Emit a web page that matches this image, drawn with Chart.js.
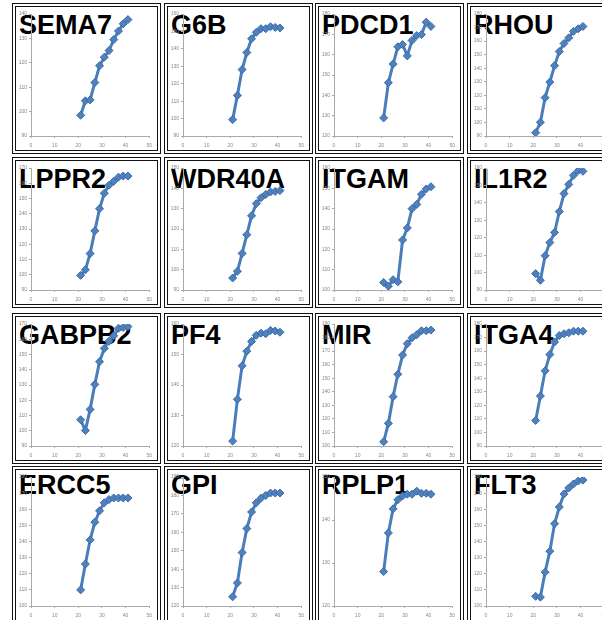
<!DOCTYPE html>
<html>
<head>
<meta charset="utf-8">
<script src="https://cdn.jsdelivr.net/npm/chart.js@4.4.0/dist/chart.umd.min.js"></script>
<style>
  body { margin: 0; background: #fff; width: 602px; height: 620px; overflow: hidden; position: relative; font-family: "Liberation Sans", Arial, sans-serif; }
  .panel { position: absolute; box-sizing: border-box; border: 4px double #111; background: #fff; overflow: hidden; }
  .panel canvas { position: absolute; left: 0; top: 0; z-index: 2; }
  .title { position: absolute; left: 3px; top: 5px; font-weight: bold; font-size: 27px; line-height: 1; color: #000; z-index: 1; white-space: nowrap; }
</style>
</head>
<body>
<script>
// x positions are the same for every gene
const xs = [21, 23, 25, 27, 29, 31, 33, 35, 37, 39, 41];

// one small array per gene
const sema7 = [98.5, 104.4, 104.8, 111.9, 118.8, 122.3, 125, 129.5, 133, 136, 137.7];
const g6b = [99.4, 113.3, 128.1, 137.9, 145.8, 149.5, 151.6, 151.6, 152.7, 152.3, 152];
const pdcd1 = [128.9, 146.2, 155.4, 163.9, 165, 159.4, 167, 169.4, 169.9, 176, 173.9];
const rhou = [92.4, 100.1, 118.3, 129.8, 141.9, 152.3, 158.3, 162.4, 167.2, 169.1, 170.8];
const lppr2 = [99.6, 103.2, 113.9, 128.8, 143.3, 153.4, 158.7, 161.3, 164, 164.7, 164.7];
const wdr40a = [95.9, 99.2, 108, 117.2, 126.5, 132.5, 135.4, 137, 138.2, 138.5, 138.9];
const itgam = [103.7, 101.9, 105.1, 104, 124.6, 130.5, 140, 142.1, 147.1, 149.7, 150.8];
const il1r2 = [99.4, 95.6, 109.7, 117.2, 123, 135, 145.3, 150.6, 155.8, 158.5, 158.1];
const gabpb2 = [107.2, 100.2, 114, 130.4, 145.3, 154, 158.7, 162.3, 167.2, 167.7, 168.3];
const pf4 = [121.6, 135.3, 146.3, 151.1, 154.3, 156.3, 157, 156.8, 157.9, 157.7, 157.3];
const mir = [103.1, 116.7, 136.4, 152.9, 167.1, 175.5, 179.8, 182.1, 185, 185, 185.5];
const itga4 = [108.8, 126.9, 145.5, 157.5, 166.7, 171.5, 172.8, 173.5, 174.7, 174.7, 174.7];
const ercc5 = [110, 126, 141, 152, 159, 164, 166, 167, 167, 167, 167];
const gpi = [125, 132.5, 149, 162, 171, 176, 178.5, 180, 181.3, 181.3, 181.3];
const rplp1 = [128, 137, 142.6, 144.7, 145.6, 146, 146, 146.7, 146.2, 146.2, 146];
const flt3 = [106, 105.5, 121, 134, 151, 161.4, 169.5, 173.2, 175.7, 177.5, 178.1];

const geneNames = ["SEMA7", "G6B", "PDCD1", "RHOU", "LPPR2", "WDR40A", "ITGAM", "IL1R2",
  "GABPB2", "PF4", "MIR", "ITGA4", "ERCC5", "GPI", "RPLP1", "FLT3"];
const geneValues = [sema7, g6b, pdcd1, rhou, lppr2, wdr40a, itgam, il1r2,
  gabpb2, pf4, mir, itga4, ercc5, gpi, rplp1, flt3];
// y axis range for each panel
const yMins = [90, 90, 120, 90, 90, 90, 100, 90, 90, 120, 100, 90, 100, 120, 120, 100];
const yMaxs = [140, 160, 180, 180, 170, 150, 160, 160, 170, 160, 190, 180, 180, 190, 150, 180];

// panel grid placement (bottom row runs off the page)
const colX = [12, 164, 315, 467];
const rowY = [3, 157, 313, 466];
const rowH = [151, 151, 151, 158];
const titleTop = [5, 5, 5, 2];
const panelW = 149;

const tickFont = { family: "Liberation Sans", size: 5 };

geneNames.forEach((name, i) => {
  const row = Math.floor(i / 4);
  const panel = document.createElement("div");
  panel.className = "panel";
  panel.style.left = colX[i % 4] + "px";
  panel.style.top = rowY[row] + "px";
  panel.style.width = panelW + "px";
  panel.style.height = rowH[row] + "px";

  // title sits under the plot, the line is drawn over it
  const title = document.createElement("div");
  title.className = "title";
  title.style.top = titleTop[row] + "px";
  title.textContent = name;
  panel.append(title);

  const canvas = document.createElement("canvas");
  canvas.width = panelW - 8;
  canvas.height = rowH[row] - 8;
  panel.append(canvas);
  document.body.append(panel);

  new Chart(canvas.getContext("2d"), {
    type: "line",
    data: {
      datasets: [{
        data: xs.map((x, k) => ({ x: x, y: geneValues[i][k] })),
        borderColor: "#4a7ebb",
        borderWidth: 3,
        pointStyle: "rectRot",
        pointRadius: 4,
        pointBackgroundColor: "#4f81bd",
        pointBorderColor: "#3d6ba8",
        pointBorderWidth: 1,
        tension: 0,
      }],
    },
    options: {
      responsive: false,
      animation: false,
      layout: { padding: { top: 7, right: 4 } },
      plugins: { legend: { display: false }, tooltip: { enabled: false } },
      scales: {
        x: {
          type: "linear",
          min: 0,
          max: 50,
          ticks: { stepSize: 10, font: tickFont, color: "#888", padding: 5, maxRotation: 0 },
          grid: { drawOnChartArea: false, tickLength: 2, color: "#aaa" },
          border: { color: "#aaa" },
          afterFit: (s) => { s.height = 14; },
        },
        y: {
          min: yMins[i],
          max: yMaxs[i],
          ticks: { stepSize: 10, font: tickFont, color: "#888", padding: 2 },
          grid: { drawOnChartArea: false, tickLength: 2, color: "#aaa" },
          border: { color: "#aaa" },
          afterFit: (s) => { s.width = 15; },
        },
      },
    },
  });
});
</script>
</body>
</html>
